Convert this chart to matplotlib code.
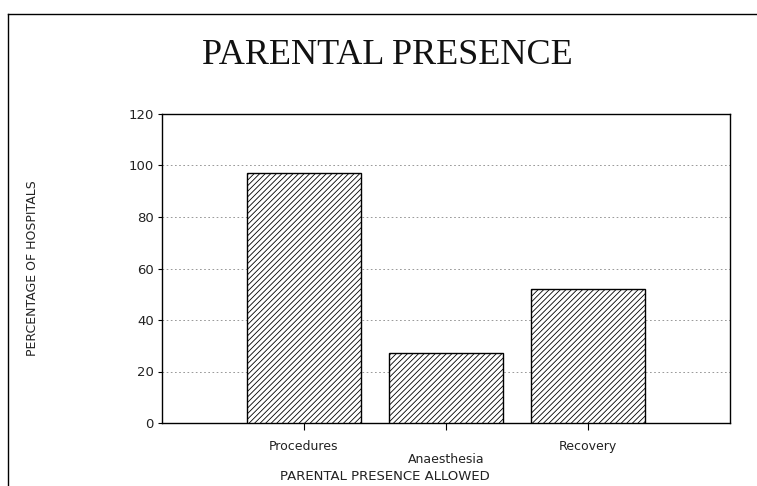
import matplotlib
matplotlib.use("Agg")
import matplotlib.pyplot as plt
from matplotlib.lines import Line2D

categories = ["Procedures", "Anaesthesia", "Recovery"]
values = [97, 27, 52]
yticks = [0, 20, 40, 60, 80, 100, 120]

plt.rcParams['hatch.linewidth'] = 0.6
fig = plt.figure(figsize=(7.57, 4.86), dpi=100)
W, H = 757, 486
ax = fig.add_axes([162 / W, 1 - 423 / H, (730 - 162) / W, (423 - 114) / H])

x = list(range(len(categories)))
ax.bar(x, values, width=0.8, facecolor="white", edgecolor="black", linewidth=1.0, hatch="//////", zorder=3)
ax.set_xlim(-1, 3)
ax.set_ylim(0, 120)
ax.set_yticks(yticks)
ax.set_yticklabels([str(v) for v in yticks], fontsize=9.5, family="DejaVu Sans", color="#222222")
ax.set_xticks(x)
ax.set_xticklabels([])
for xi, lab in zip(x, categories):
    dy = -26 if lab == "Anaesthesia" else -17
    ax.annotate(lab, (xi, 0), xytext=(0, dy), textcoords="offset points", ha="center", va="center",
                fontsize=9, color="#222222", annotation_clip=False)
ax.tick_params(axis="x", direction="out", length=5, width=0.8)
ax.tick_params(axis="y", direction="out", length=3, width=0.8, pad=3)
ax.grid(axis="y", linestyle=(0, (2, 3)), color="#888888", linewidth=0.6, zorder=0)
for s in ax.spines.values():
    s.set_linewidth(1.0)

fig.text(385 / W, 1 - 476 / H, "PARENTAL PRESENCE ALLOWED", ha="center", va="center", fontsize=9.5, color="#222222")
fig.text(33 / W, 1 - 268 / H, "PERCENTAGE OF HOSPITALS", ha="center", va="center", rotation=90, fontsize=9, color="#222222")
fig.text(387 / W, 1 - 55 / H, "PARENTAL PRESENCE", ha="center", va="center", fontsize=26, family="Liberation Serif", color="#111111")

fig.add_artist(Line2D([8 / W, 1.0], [1 - 14 / H, 1 - 14 / H], transform=fig.transFigure, color="black", linewidth=1.0))
fig.add_artist(Line2D([8 / W, 8 / W], [1 - 14 / H, 0], transform=fig.transFigure, color="black", linewidth=1.0))

fig.savefig("out.png", dpi=100)
